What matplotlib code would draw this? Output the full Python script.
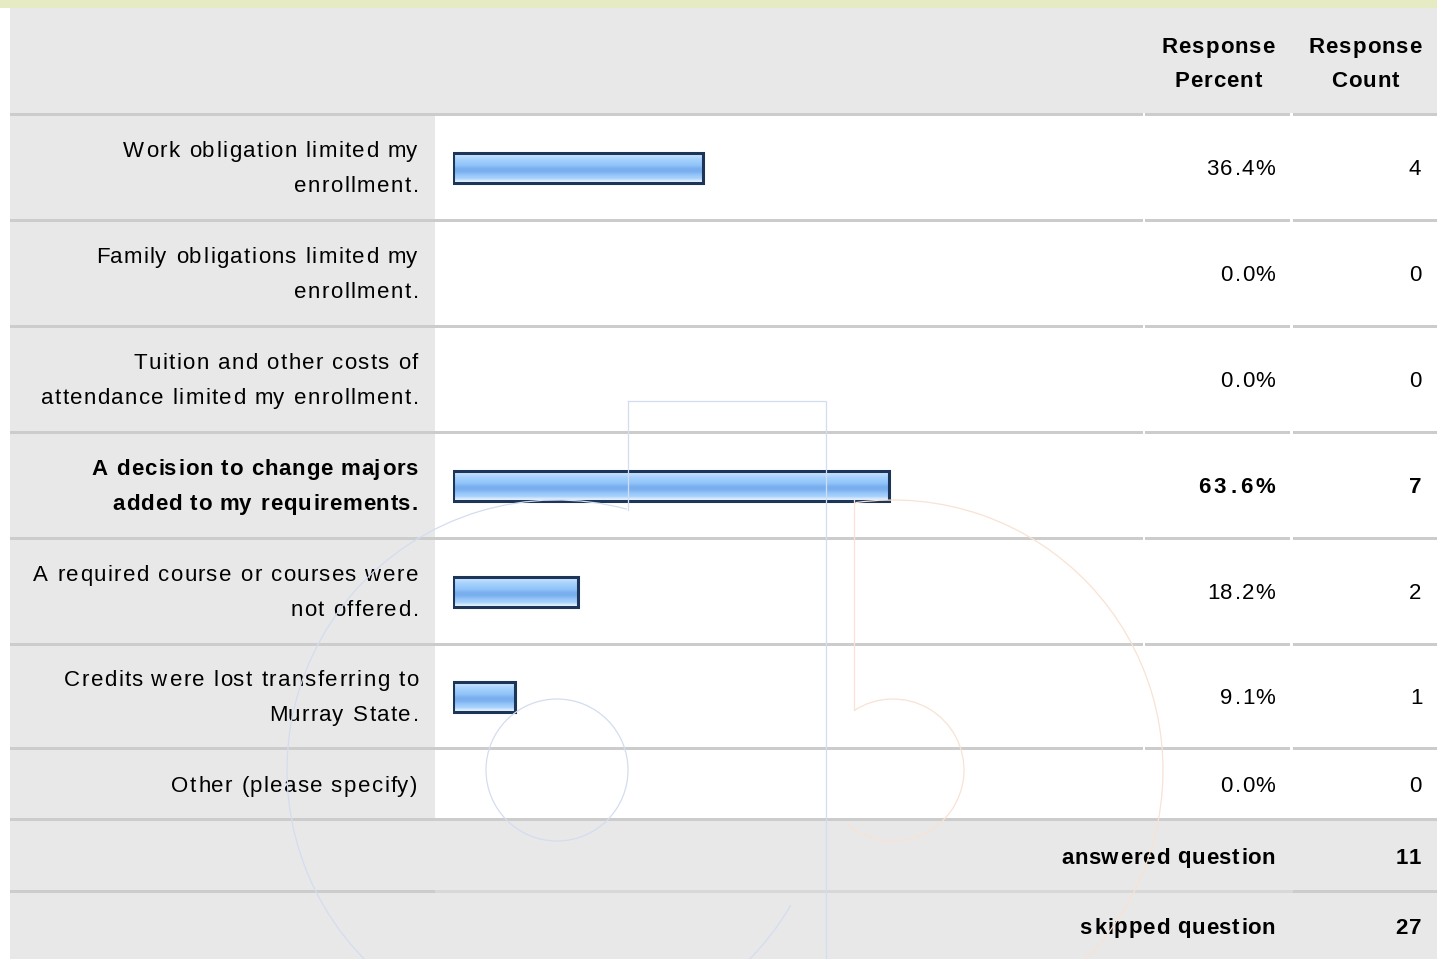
import matplotlib.pyplot as plt
import numpy as np
from matplotlib import font_manager
from matplotlib.ft2font import FT2Font
from matplotlib.patches import Rectangle, Arc
from matplotlib.colors import LinearSegmentedColormap

plt.rcParams['font.family'] = ['Liberation Sans', 'DejaVu Sans']

# survey data
labels = [
    ['Work obligation limited my', 'enrollment.'],
    ['Family obligations limited my', 'enrollment.'],
    ['Tuition and other costs of', 'attendance limited my enrollment.'],
    ['A decision to change majors', 'added to my requirements.'],
    ['A required course or courses were', 'not offered.'],
    ['Credits were lost transferring to', 'Murray State.'],
    ['Other (please specify)'],
]
percents = [36.4, 0.0, 0.0, 63.6, 18.2, 9.1, 0.0]
counts = [4, 0, 0, 7, 2, 1, 0]
highlight = 3  # row shown in bold
summary_labels = ['answered question', 'skipped question']
summary_values = [11, 27]
header_cols = [['Response', 'Percent'], ['Response', 'Count']]

# layout (pixels)
W, H = 1437, 959
row_top = [116, 222, 328, 434, 540, 646, 750]
row_bot = [219, 325, 431, 537, 643, 747, 818]
sum_top = [821, 893]
sum_bot = [890, 962]
lab_x1 = 435
pct_x0, pct_x1 = 1145, 1290
cnt_x0 = 1293
bar_x0, bar_full = 453, 686
fs = 16

fig = plt.figure(figsize=(W / 100, H / 100), dpi=100)
ax = fig.add_axes([0, 0, 1, 1])
ax.set_xlim(0, W)
ax.set_ylim(H, 0)
ax.axis('off')

# glyph advances so text can be drawn with letter spacing
_fonts = {}
for wt in ['normal', 'bold']:
    path = font_manager.findfont(font_manager.FontProperties(family='Liberation Sans', weight=wt))
    f = FT2Font(path, hinting_factor=1)
    f.set_size(fs, 100)
    _fonts[wt] = f


def stext(x, y, s, ha='right', weight='normal', sp=1.5):
    f = _fonts[weight]
    glyphs = [f.load_char(ord(c)) for c in s]
    advs = [g.linearHoriAdvance / 65536 for g in glyphs]
    total = sum(advs) + sp * (len(s) - 1)
    if ha == 'right':
        px = x - total
    elif ha == 'center':
        px = x - total / 2
    else:
        px = x
    for c, g, a in zip(s, glyphs, advs):
        if c != ' ':
            ax.text(px + g.horiBearingX / 64, y, c, ha='left', va='baseline',
                    fontsize=fs, fontweight=weight, zorder=5)
        px += a + sp


gray = '#e8e8e8'
sep = '#cccccc'

# top strip and header
ax.add_patch(Rectangle((0, 0), W, 8, color='#e6ebc4', lw=0))
ax.add_patch(Rectangle((10, 8), W - 10, 105, color=gray, lw=0))
for cx, lines in zip([1217, 1364], header_cols):
    stext(cx, 53, lines[0], ha='center', weight='bold', sp=1.1)
    stext(cx, 87, lines[1], ha='center', weight='bold', sp=1.1)

# data rows
for i, lab in enumerate(labels):
    t, b = row_top[i], row_bot[i]
    cy = (t + b) / 2
    ax.add_patch(Rectangle((10, t - 3), lab_x1 - 10, b - t + 3, color=gray, lw=0))
    # separator above
    ax.add_patch(Rectangle((10, t - 3), pct_x0 - 12, 3, color=sep, lw=0))
    ax.add_patch(Rectangle((pct_x0, t - 3), pct_x1 - pct_x0, 3, color=sep, lw=0))
    ax.add_patch(Rectangle((cnt_x0, t - 3), W - cnt_x0, 3, color=sep, lw=0))
    bold = i == highlight
    wt = 'bold' if bold else 'normal'
    sp = 1.0 if bold else 1.5
    if len(lab) == 2:
        stext(417, cy - 10.5, lab[0], weight=wt, sp=sp)
        stext(417, cy + 24.5, lab[1], weight=wt, sp=sp)
    else:
        stext(417, cy + 8, lab[0], weight=wt, sp=sp)
    stext(1274, cy + 7.5, f'{percents[i]:.1f}%', weight=wt, sp=3.5 if bold else 1.5)
    stext(1420, cy + 7.5, f'{counts[i]}', weight=wt, sp=sp)

# summary rows
for k, (lab, val) in enumerate(zip(summary_labels, summary_values)):
    t, b = sum_top[k], sum_bot[k]
    cy = 856 if k == 0 else 926
    ax.add_patch(Rectangle((10, t), W - 10, b - t, color=gray, lw=0))
    c_mid = sep if k == 0 else '#d8d8d8'
    ax.add_patch(Rectangle((10, t - 3), lab_x1 - 10, 3, color=sep, lw=0))
    ax.add_patch(Rectangle((lab_x1, t - 3), cnt_x0 - lab_x1, 3, color=c_mid, lw=0))
    ax.add_patch(Rectangle((cnt_x0, t - 3), W - cnt_x0, 3, color=sep, lw=0))
    stext(1274, cy + 7.5, lab, weight='bold', sp=0.9)
    stext(1420, cy + 7.5, str(val), weight='bold', sp=1.0)

# bars on their own percent axis
bx = fig.add_axes([bar_x0 / W, 0, bar_full / W, 1])
bx.axis('off')
bx.patch.set_alpha(0)
centers = [(row_top[i] + row_bot[i]) / 2 for i in range(len(percents))]
shown = [i for i, p in enumerate(percents) if p > 0]
bars = bx.barh([centers[i] for i in shown], [percents[i] for i in shown], height=30,
               left=0, color='none', edgecolor='#1c3558', linewidth=2.2, zorder=3)
grad = LinearSegmentedColormap.from_list('g', ['#f2f8ff', '#c3e0fd', '#a8d3fd', '#9ccbfb',
                                               '#90c3f9', '#79aeee', '#7cb1ef', '#96c7fa',
                                               '#a9d2fc', '#eef6ff'])
col = np.linspace(0, 1, 60).reshape(-1, 1)
for p in bars.patches:
    x, y, w, h = p.get_x(), p.get_y(), p.get_width(), p.get_height()
    bx.imshow(col, cmap=grad, aspect='auto', extent=(x, x + w, y + h, y),
              interpolation='bilinear', zorder=2)
bx.set_xlim(0, 100)
bx.set_ylim(H, 0)

# faint watermark logo, drawn over everything
wx = fig.add_axes([0, 0, 1, 1])
wx.set_xlim(0, W)
wx.set_ylim(H, 0)
wx.axis('off')
wx.patch.set_alpha(0)
wm_b, wm_o = '#d3ddf0', '#f9e2d3'
wx.add_patch(Arc((557, 770), 540, 540, theta1=30, theta2=285, color=wm_b, lw=0.9))
wx.add_patch(Arc((557, 770), 142, 142, color=wm_b, lw=0.9))
wx.plot([628, 826, 826], [401, 401, H], color=wm_b, lw=0.9)
wx.plot([628, 628], [401, 510], color=wm_b, lw=0.9)
wx.add_patch(Arc((893, 770), 540, 540, theta1=262, theta2=120, color=wm_o, lw=0.9))
wx.add_patch(Arc((893, 770), 142, 142, theta1=237, theta2=130, color=wm_o, lw=0.9))
wx.plot([854, 854], [500, 710], color=wm_o, lw=0.9)

fig.savefig('out.png', dpi=100)
